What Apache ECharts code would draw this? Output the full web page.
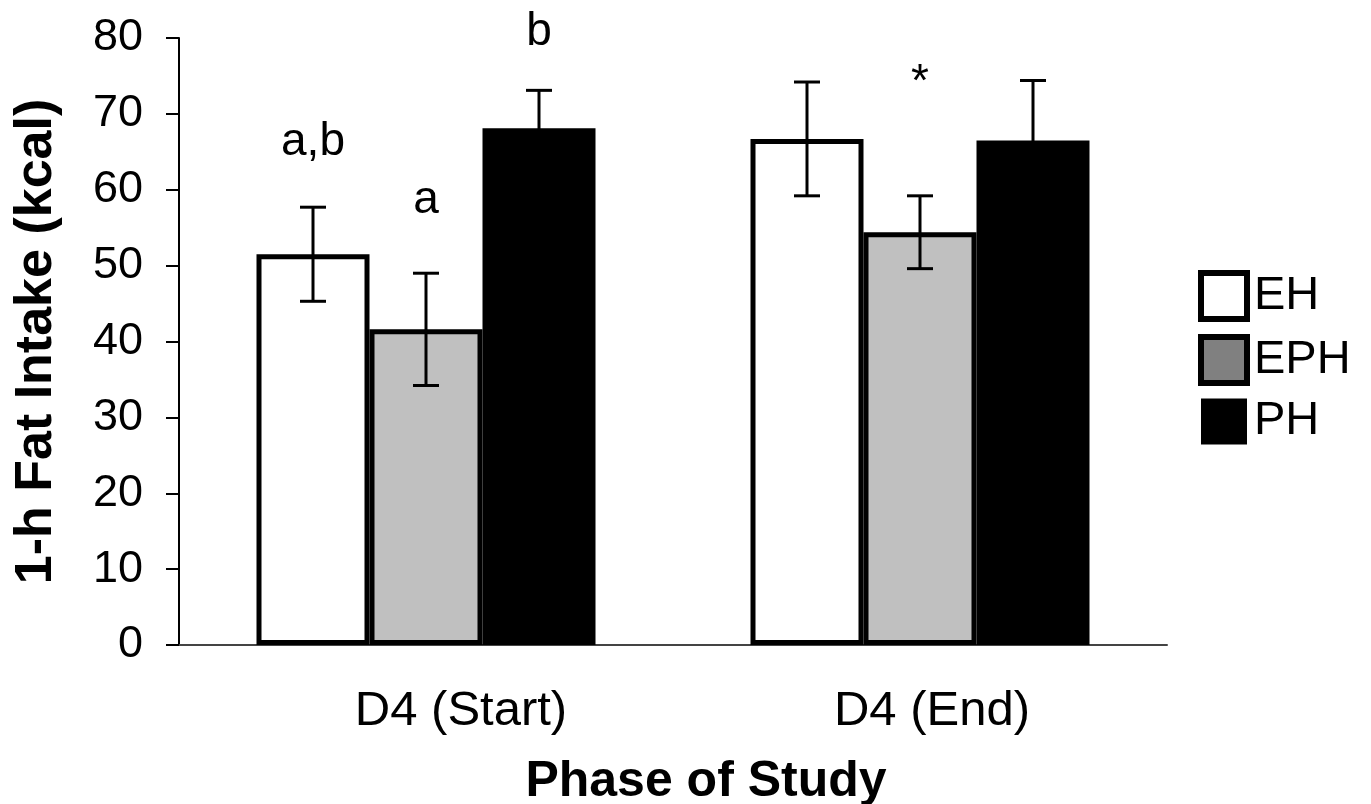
<!DOCTYPE html>
<html>
<head>
<meta charset="utf-8">
<script src="https://cdn.jsdelivr.net/npm/echarts@6/dist/echarts.min.js"></script>
<style>html,body{margin:0;padding:0;background:#fff;}#c{width:1371px;height:804px;}</style>
</head>
<body>
<div id="c"></div>
<script>
const categories = ['D4 (Start)', 'D4 (End)'];
const seriesNames = ['EH', 'EPH', 'PH'];
const EH  = [51.5, 66.7];
const EPH = [41.6, 54.4];
const PH  = [68.1, 66.5];
const EH_err  = [6.2, 7.5];
const EPH_err = [7.4, 4.8];
const PH_err  = [5.0, 7.9];
const yTicks = [0, 10, 20, 30, 40, 50, 60, 70, 80];
// annotation text: category index, series index, y value where text sits, text
const annotCat = [0, 0, 0, 1];
const annotSeries = [0, 1, 2, 1];
const annotY = [66.2, 58.6, 80.8, 74.0];
const annotText = ['a,b', 'a', 'b', '*'];

const font = '"Liberation Sans", Arial, sans-serif';
const barW = 113;
const fills = ['#ffffff', '#c0c0c0', '#000000'];
const legendFills = ['#ffffff', '#808080', '#000000'];
const vals = [EH, EPH, PH];
const errs = [EH_err, EPH_err, PH_err];

const errData = [];
for (let s = 0; s < 3; s++) {
  for (let c = 0; c < categories.length; c++) {
    errData.push([c, s, vals[s][c] - errs[s][c], vals[s][c] + errs[s][c]]);
  }
}
const annData = annotCat.map((c, i) => [c, annotSeries[i], annotY[i]]);

const chart = echarts.init(document.getElementById('c'));
chart.setOption({
  animation: false,
  backgroundColor: '#fff',
  grid: { left: 179, right: 204, top: 38, bottom: 159, containLabel: false, outerBoundsMode: 'none' },
  legend: {
    orient: 'vertical',
    left: 1198, top: 270,
    padding: 0,
    itemWidth: 46, itemHeight: 46, itemGap: 12,
    icon: 'rect',
    textStyle: { fontFamily: font, fontSize: 47, color: '#000', padding: [0, 0, 0, 2] },
    data: seriesNames.map((n, i) => ({
      name: n,
      itemStyle: { color: legendFills[i], borderColor: '#000', borderWidth: i === 2 ? 0 : 6 }
    }))
  },
  xAxis: {
    type: 'category',
    data: categories,
    axisLine: { lineStyle: { color: '#444', width: 2 } },
    axisTick: { show: false },
    axisLabel: {
      fontFamily: font, fontSize: 49, color: '#000', margin: 42,
      formatter: (v, i) => (i === 0 ? '{s|' : '{e|') + v + '}',
      rich: {
        s: { fontFamily: font, fontSize: 49, color: '#000', padding: [0, 0, 0, 70] },
        e: { fontFamily: font, fontSize: 49, color: '#000', padding: [0, 0, 0, 24] }
      }
    },
    name: 'Phase of Study',
    nameLocation: 'middle',
    nameGap: 112,
    nameTextStyle: { fontFamily: font, fontSize: 50, fontWeight: 'bold', color: '#000', padding: [0, 0, 0, 66] }
  },
  yAxis: {
    type: 'value',
    min: 0, max: 80, interval: 10,
    axisLine: { show: true, lineStyle: { color: '#000', width: 2 } },
    axisTick: { show: true, length: 13, lineStyle: { color: '#000', width: 2 } },
    splitLine: { show: false },
    axisLabel: { fontFamily: font, fontSize: 45, color: '#000', margin: 36,
      formatter: v => yTicks.indexOf(v) >= 0 ? String(v) : '' },
    name: '1-h Fat Intake (kcal)',
    nameLocation: 'middle',
    nameGap: 116,
    nameTextStyle: { fontFamily: font, fontSize: 52, fontWeight: 'bold', color: '#000' }
  },
  series: [
    ...seriesNames.map((n, i) => ({
      name: n,
      type: 'bar',
      data: vals[i],
      barWidth: barW,
      barGap: '0%',
      itemStyle: { color: fills[i], borderColor: '#000', borderWidth: 5 }
    })),
    {
      type: 'custom',
      name: 'err',
      data: errData,
      encode: { x: 0, y: [2, 3] },
      z: 10,
      renderItem: function (params, api) {
        const c = api.value(0), s = api.value(1);
        const lo = api.coord([c, api.value(2)]);
        const hi = api.coord([c, api.value(3)]);
        const x = lo[0] + (s - 1) * barW;
        const hw = 13;
        const st = { stroke: '#000', lineWidth: 3 };
        return {
          type: 'group',
          children: [
            { type: 'line', shape: { x1: x, y1: lo[1], x2: x, y2: hi[1] }, style: st },
            { type: 'line', shape: { x1: x - hw, y1: hi[1], x2: x + hw, y2: hi[1] }, style: st },
            { type: 'line', shape: { x1: x - hw, y1: lo[1], x2: x + hw, y2: lo[1] }, style: st }
          ]
        };
      }
    },
    {
      type: 'custom',
      name: 'annot',
      data: annData,
      encode: { x: 0, y: 2 },
      z: 11,
      renderItem: function (params, api) {
        const c = api.value(0), s = api.value(1);
        const p = api.coord([c, api.value(2)]);
        return {
          type: 'text',
          x: p[0] + (s - 1) * barW,
          y: p[1],
          style: {
            text: annotText[params.dataIndex],
            fontFamily: font,
            fontSize: 46,
            fill: '#000',
            align: 'center',
            verticalAlign: 'middle'
          }
        };
      }
    }
  ]
});
</script>
</body>
</html>
